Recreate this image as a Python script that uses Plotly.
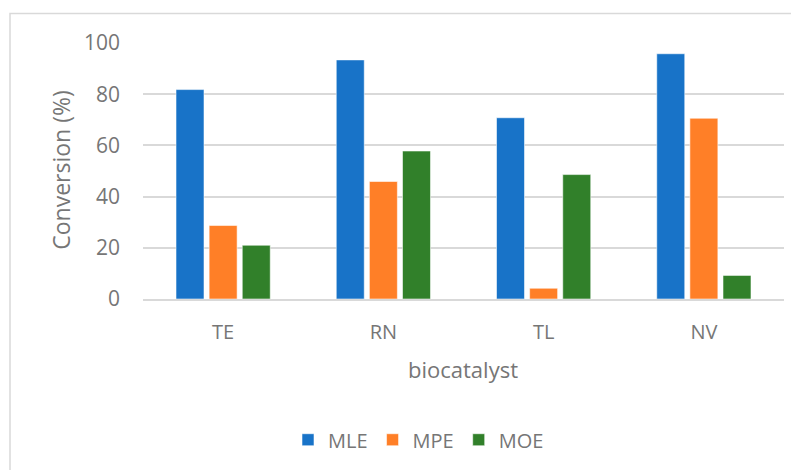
import plotly.graph_objects as go

categories = ["TE", "RN", "TL", "NV"]
series_names = ["MLE", "MPE", "MOE"]
mle = [81.8, 93.4, 70.8, 95.8]
mpe = [28.7, 45.9, 4.2, 70.6]
moe = [21.0, 57.8, 48.6, 9.2]
colors = ["#1873C8", "#FF7F27", "#31802A"]
y_ticks = [0, 20, 40, 60, 80, 100]

# the page places the figure 8px in from the top-left corner
W, H = 791, 462
ML, MR, MT, MB = 135, 15, 34.5, 171
PW, PH = W - ML - MR, H - MT - MB
TEXT = "#767676"
FONT = "Open Sans"

def px_x(p):
    return (p - ML) / PW

def px_y(p):
    return (H - MB - p) / PH

fig = go.Figure()
for name, vals, col in zip(series_names, [mle, mpe, moe], colors):
    fig.add_trace(go.Bar(
        x=categories, y=vals, name=name,
        marker=dict(color=col, line=dict(color="rgba(255,255,255,0.55)", width=1)),
    ))

fig.update_layout(
    width=W, height=H,
    margin=dict(l=ML, r=MR, t=MT, b=MB, autoexpand=False),
    paper_bgcolor="white", plot_bgcolor="white",
    barmode="group", bargap=0.38, bargroupgap=0.155,
    font=dict(family=FONT, color=TEXT, size=18),
    xaxis=dict(
        showgrid=False, showline=True, linecolor="#d9d9d9", linewidth=2,
        ticks="", tickfont=dict(size=20, color=TEXT), ticklabelstandoff=14,
        automargin=False,
    ),
    yaxis=dict(
        range=[0, 100], tickvals=y_ticks, showgrid=True, gridcolor="#d9d9d9", gridwidth=2,
        zeroline=False, showline=False, ticks="",
        tickfont=dict(size=21, color=TEXT), ticklabelstandoff=22, automargin=False,
    ),
    showlegend=True,
    legend=dict(
        orientation="h", x=px_x(280), xanchor="left", y=px_y(432), yanchor="middle",
        font=dict(size=20, color=TEXT), itemwidth=30, traceorder="normal",
        bgcolor="rgba(0,0,0,0)",
    ),
    shapes=[dict(
        type="rect", xref="paper", yref="paper",
        x0=px_x(2), x1=px_x(830), y0=px_y(500), y1=px_y(5),
        line=dict(color="#d9d9d9", width=1.5), fillcolor="rgba(0,0,0,0)", layer="below",
    )],
    annotations=[
        dict(text="Conversion (%)", xref="paper", yref="paper", x=px_x(53.5), y=px_y(162),
             xanchor="center", yanchor="middle", textangle=-90, showarrow=False,
             font=dict(size=23, color=TEXT, family=FONT)),
        dict(text="biocatalyst", xref="paper", yref="paper", x=px_x(455), y=px_y(361.5),
             xanchor="center", yanchor="middle", showarrow=False,
             font=dict(size=22, color=TEXT, family=FONT)),
    ],
)

fig.write_html("out.html")
